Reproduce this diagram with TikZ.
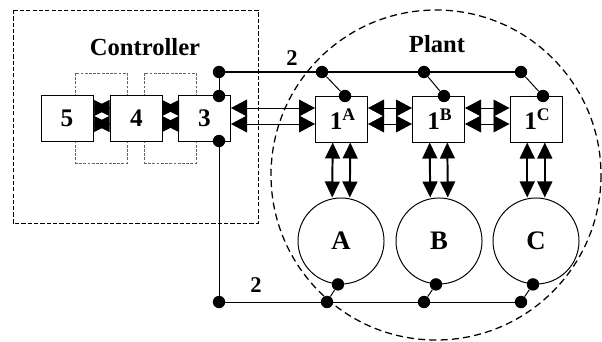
\documentclass[tikz,border=0pt]{standalone}
\usepackage{fontspec}
\setmainfont{Liberation Serif}
\usetikzlibrary{positioning, arrows.meta, calc}

\begin{document}
\begin{tikzpicture}[
    x=0.025cm, y=-0.025cm,
    unit/.style={rectangle, draw, fill=white, line width=0.7pt, minimum width=1.3cm, minimum height=1.15cm, inner sep=0pt, font=\bfseries\fontsize{18}{20}\selectfont},
    link/.style={rectangle, draw=black!60, dash pattern=on 2pt off 1pt, line width=0.4pt, minimum width=1.3cm, minimum height=2.25cm, inner sep=0pt},
    motor/.style={circle, draw, line width=0.7pt, minimum size=2.15cm, inner sep=0pt, font=\bfseries\fontsize{19}{21}\selectfont},
    dot/.style={circle, fill, inner sep=0pt, minimum size=0.31cm},
    title/.style={font=\bfseries\fontsize{17.5}{19}\selectfont},
    wire/.style={line width=0.7pt},
    bus/.style={line width=1pt},
    half/.style={-{Triangle[length=4mm, width=4mm]}, line width=0.5pt},
    big/.style={{Triangle[length=4mm, width=4.2mm]}-{Triangle[length=4mm, width=4.2mm]}, line width=0.6pt},
    bigv/.style={{Triangle[length=4mm, width=3.7mm]}-{Triangle[length=4mm, width=3.7mm]}, line width=1.4pt}
]
\useasboundingbox (0,0) rectangle (602,341);

\draw[dash pattern=on 3pt off 1.5pt, line width=0.5pt] (13,10) rectangle (258,223);
\draw[line width=0.9pt, dash pattern=on 5pt off 3pt] (436,175) circle[radius=165];

\node[title] (ctrltitle) at (145,47) {Controller};
\node[title] (planttitle) at (437,44) {Plant};

\coordinate (hi) at (0,108);
\coordinate (lo) at (0,124);

\node[link] (l54) at (101,118) {};
\node[link] (l43) at (170,118) {};

\node[unit] (u5) at (67,118) {5};
\node[unit] (u4) at (136.5,118) {4};
\node[unit] (u3) at (204.5,118) {3};

\node[unit] (p1A) at (341.5,119) {\hspace{2pt}1\textsuperscript{A}};
\node[unit] (p1B) at (438.5,119) {\hspace{2pt}1\textsuperscript{B}};
\node[unit] (p1C) at (536,119) {\hspace{2pt}1\textsuperscript{C}};

\node[motor] (mA) at (341,241) {A};
\node[motor] (mB) at (439,241) {B};
\node[motor] (mC) at (536,241) {C};

\draw[half] (u5.east |- hi) -- (u4.west |- hi);
\draw[half] (u4.west |- hi) -- (u5.east |- hi);
\draw[half] (u5.east |- lo) -- (u4.west |- lo);
\draw[half] (u4.west |- lo) -- (u5.east |- lo);
\draw[half] (u4.east |- hi) -- (u3.west |- hi);
\draw[half] (u3.west |- hi) -- (u4.east |- hi);
\draw[half] (u4.east |- lo) -- (u3.west |- lo);
\draw[half] (u3.west |- lo) -- (u4.east |- lo);

\draw[big] (u3.east |- hi) -- (p1A.west |- hi);
\draw[big] (u3.east |- lo) -- (p1A.west |- lo);
\draw[big] (p1A.east |- hi) -- (p1B.west |- hi);
\draw[big] (p1A.east |- lo) -- (p1B.west |- lo);
\draw[big] (p1B.east |- hi) -- (p1C.west |- hi);
\draw[big] (p1B.east |- lo) -- (p1C.west |- lo);

\draw[bigv] ([xshift=-0.22cm]p1A.south) -- ([xshift=-0.22cm]mA.north);
\draw[bigv] ([xshift=0.22cm]p1A.south) -- ([xshift=0.22cm]mA.north);
\draw[bigv] ([xshift=-0.22cm]p1B.south) -- ([xshift=-0.22cm]mB.north);
\draw[bigv] ([xshift=0.22cm]p1B.south) -- ([xshift=0.22cm]mB.north);
\draw[bigv] ([xshift=-0.22cm]p1C.south) -- ([xshift=-0.22cm]mC.north);
\draw[bigv] ([xshift=0.22cm]p1C.south) -- ([xshift=0.22cm]mC.north);

\node[dot] (d3t) at (219,96) {};
\node[dot] (d3b) at (219,141) {};
\node[dot] (j2t) at (219,72) {};
\node[dot] (j2b) at (219,302) {};

\node[dot] (tA) at (322,72) {};
\node[dot] (tB) at (424,72) {};
\node[dot] (tC) at (521,72) {};
\node[dot] (sA) at (345,96) {};
\node[dot] (sB) at (444,96) {};
\node[dot] (sC) at (543,96) {};

\node[dot] (cA) at (mA.266) {};
\node[dot] (cB) at (mB.266) {};
\node[dot] (cC) at (mC.266) {};
\node[dot] (bA) at (327,302) {};
\node[dot] (bB) at (424,302) {};
\node[dot] (bC) at (521,302) {};

\draw[wire] (j2t) -- (d3t);
\draw[bus] (j2t) -- (tA) -- (tB) -- (tC);
\draw[wire] (tA) -- (sA);
\draw[wire] (tB) -- (sB);
\draw[wire] (tC) -- (sC);

\draw[wire] (d3b) -- (j2b) -- (bA) -- (bB) -- (bC);
\draw[wire] (bA) -- (cA);
\draw[wire] (bB) -- (cB);
\draw[wire] (bC) -- (cC);

\node[font=\bfseries\fontsize{16}{18}\selectfont] (bus2t) at (292,58) {2};
\node[font=\bfseries\fontsize{16}{18}\selectfont] (bus2b) at (256,285) {2};

\end{tikzpicture}
\end{document}
